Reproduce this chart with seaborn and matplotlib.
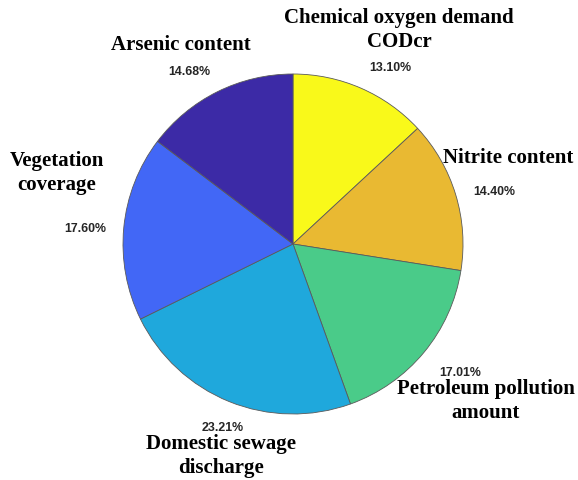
import numpy as np
import matplotlib
matplotlib.use("Agg")
import matplotlib.pyplot as plt
import seaborn as sns

# Share of each indicator (percent), clockwise from twelve o'clock
categories = [
    "Chemical oxygen demand\nCODcr",
    "Nitrite content",
    "Petroleum pollution\namount",
    "Domestic sewage\ndischarge",
    "Vegetation\ncoverage",
    "Arsenic content",
]
shares = [13.10, 14.40, 17.01, 23.21, 17.60, 14.68]

# Parula-like slice colours
slice_colors = ["#F9F91A", "#E9B932", "#4ACB89", "#1FA8DC", "#4267F6", "#3C2AA6"]

# Figure geometry (pixels): pie centre and radius
W, H = 578, 481
CX, CY, R = 293, 245, 170


def to_data(px, py):
    """Convert a pixel position (from top-left) to pie data units."""
    return (px - CX) / R, (CY - py) / R


# Label anchor points in pixels
name_px = [(399, 30), (508, 158), (486, 401), (221, 456), (57, 173), (181, 45)]
pct_px = [(390, 68), (494, 192), (460, 373), (223, 428), (85, 229), (189, 72)]

sns.set_theme(style="white")
plt.rcParams["font.family"] = ["DejaVu Sans"]

fig = plt.figure(figsize=(W / 100, H / 100), dpi=100)
ax = fig.add_axes([0, 0, 1, 1])

palette = sns.color_palette(slice_colors)
wedges, texts, autotexts = ax.pie(
    shares,
    colors=palette,
    startangle=90,
    counterclock=False,
    radius=1.0,
    autopct=lambda p: f"{p:.2f}%",
    pctdistance=1.2,
    wedgeprops=dict(edgecolor="#5a5a5a", linewidth=0.6),
    textprops=dict(family="Liberation Sans", fontweight="bold",
                   fontsize=8.9, color="#262626"),
)

for t, (px, py) in zip(autotexts, pct_px):
    t.set_position(to_data(px, py))
    t.set_ha("center")
    t.set_va("center")

for (px, py), name in zip(name_px, categories):
    x, y = to_data(px, py)
    ax.text(x, y, name, ha="center", va="center", multialignment="center",
            family="Liberation Serif", fontweight="bold", fontsize=15,
            color="black", linespacing=1.27)

ax.set_xlim(-CX / R, (W - CX) / R)
ax.set_ylim(-(H - CY) / R, CY / R)
ax.set_aspect("auto")
ax.axis("off")

fig.savefig("out.png", dpi=100, facecolor="white")
